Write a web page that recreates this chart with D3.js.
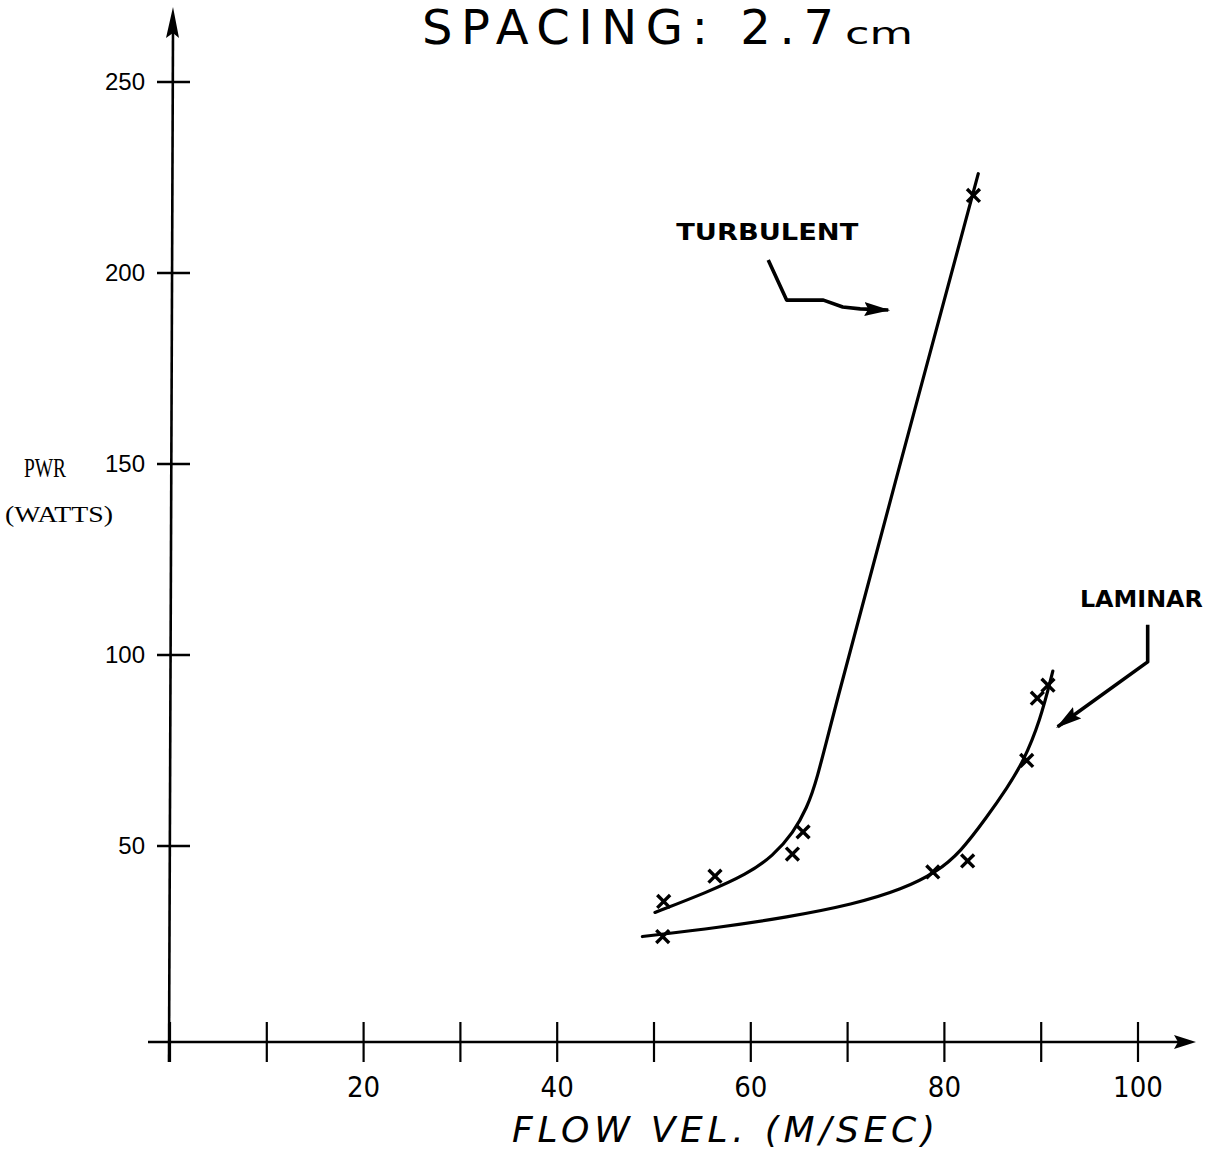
<!DOCTYPE html>
<html>
<head>
<meta charset="utf-8">
<script src="https://cdn.jsdelivr.net/npm/d3@7"></script>
<style>
  html, body { margin: 0; padding: 0; background: #fff; }
  svg { display: block; }
</style>
</head>
<body>
<svg id="chart" width="1223" height="1150"></svg>
<script>
// ---- data ----
const xTicks = [0, 10, 20, 30, 40, 50, 60, 70, 80, 90, 100];
const xTickLabels = [20, 40, 60, 80, 100];
const yTicks = [50, 100, 150, 200, 250];

// Turbulent: fitted curve and measured points
const turbulentCurve = [
  [50.1, 32.6], [55.5, 37.9], [59.6, 42.6], [62.3, 47.4], [64.4, 53.5],
  [65.8, 60.0], [66.8, 67.0], [68.4, 83.4], [74.5, 141.3], [83.5, 226]
];
const turbulentPoints = [
  [51.0, 35.5], [56.3, 42.1], [64.3, 47.9], [65.4, 53.7], [83.0, 220.3]
];

// Laminar: fitted curve and measured points
const laminarCurve = [
  [48.8, 26.3], [56.8, 28.7], [63.7, 31.3], [70.6, 34.7], [75.7, 38.7],
  [79.2, 43.2], [81.6, 48.2], [84.4, 57.6], [86.5, 65.3], [88.1, 71.8],
  [89.9, 82.8], [91.2, 95.8]
];
const laminarPoints = [
  [50.9, 26.3], [78.8, 43.2], [82.4, 46.1], [88.5, 72.4], [89.6, 88.7], [90.7, 92.1]
];

// annotation leaders (data coordinates)
const turbulentArrow = [[61.8, 203.4], [63.7, 192.9], [67.5, 192.9], [69.5, 191.1], [71.3, 190.6], [74.2, 190.3]];
const laminarArrow = [[101.0, 107.9], [101.0, 98.2], [91.7, 81.2]];

const titleText = "SPACING: 2.7";
const titleUnit = "cm";
const xTitle = "FLOW VEL. (M/SEC)";
const yTitle1 = "PWR";
const yTitle2 = "(WATTS)";

// ---- drawing ----
const svg = d3.select("#chart");
const x = d3.scaleLinear().domain([0, 100]).range([170, 1138]);
const y = d3.scaleLinear().domain([0, 250]).range([1037, 82]);
const axisY = 1042;

const defs = svg.append("defs");
defs.append("marker")
  .attr("id", "head").attr("viewBox", "0 0 26 14")
  .attr("refX", 24).attr("refY", 7)
  .attr("markerWidth", 26).attr("markerHeight", 14)
  .attr("markerUnits", "userSpaceOnUse").attr("orient", "auto")
  .append("path").attr("d", "M0,0 L26,7 L0,14 L4,7 Z").attr("fill", "#000");

// X axis
svg.append("line")
  .attr("x1", 148).attr("x2", 1180).attr("y1", axisY).attr("y2", axisY)
  .attr("stroke", "#000").attr("stroke-width", 2.6);
svg.append("path")
  .attr("d", `M1196,${axisY} L1174,${axisY - 7} L1178,${axisY} L1174,${axisY + 7} Z`)
  .attr("fill", "#000");
svg.append("g").selectAll("line").data(xTicks).join("line")
  .attr("x1", d => x(d)).attr("x2", d => x(d))
  .attr("y1", axisY - 20).attr("y2", axisY + 20)
  .attr("stroke", "#000").attr("stroke-width", 2.2);
svg.append("g").selectAll("text").data(xTickLabels).join("text")
  .attr("x", d => x(d)).attr("y", 1097)
  .attr("text-anchor", "middle")
  .attr("font-family", "'Liberation Sans Narrow', 'DejaVu Sans Condensed', sans-serif")
  .attr("font-size", 29)
  .text(d => d);

// Y axis
svg.append("line")
  .attr("x1", 169).attr("x2", 173).attr("y1", 1062).attr("y2", 30)
  .attr("stroke", "#000").attr("stroke-width", 2.6);
svg.append("path")
  .attr("d", "M173,7 L179,38 L173,33 L166,38 Z")
  .attr("fill", "#000");
svg.append("g").selectAll("line").data(yTicks).join("line")
  .attr("x1", 157).attr("x2", 190)
  .attr("y1", d => y(d)).attr("y2", d => y(d))
  .attr("stroke", "#000").attr("stroke-width", 2.4);
svg.append("g").selectAll("text").data(yTicks).join("text")
  .attr("x", 145).attr("y", d => y(d) + 8)
  .attr("text-anchor", "end")
  .attr("font-family", "'Liberation Sans', Arial, sans-serif")
  .attr("font-size", 24)
  .text(d => d);

// Axis titles
svg.append("text").attr("x", 24).attr("y", 477)
  .attr("font-family", "'Liberation Serif', serif").attr("font-size", 27)
  .attr("textLength", 42).attr("lengthAdjust", "spacingAndGlyphs")
  .text(yTitle1);
svg.append("text").attr("x", 5).attr("y", 522)
  .attr("font-family", "'Liberation Serif', serif").attr("font-size", 23)
  .attr("textLength", 108).attr("lengthAdjust", "spacingAndGlyphs")
  .text(yTitle2);
svg.append("text").attr("x", 512).attr("y", 1142)
  .attr("font-family", "'DejaVu Sans', sans-serif").attr("font-size", 36)
  .attr("font-style", "italic")
  .attr("textLength", 423).attr("lengthAdjust", "spacing")
  .text(xTitle);

// Title
svg.append("text").attr("x", 422).attr("y", 44)
  .attr("font-family", "'DejaVu Sans', sans-serif").attr("font-size", 48)
  .attr("textLength", 412).attr("lengthAdjust", "spacing")
  .text(titleText);
svg.append("text").attr("x", 845).attr("y", 44)
  .attr("font-family", "'DejaVu Sans', sans-serif").attr("font-size", 30)
  .attr("textLength", 68).attr("lengthAdjust", "spacingAndGlyphs")
  .text(titleUnit);

// Curves
const line = d3.line().x(d => x(d[0])).y(d => y(d[1])).curve(d3.curveBasis);
[turbulentCurve, laminarCurve].forEach(c => {
  svg.append("path").datum(c).attr("d", line)
    .attr("fill", "none").attr("stroke", "#000").attr("stroke-width", 3.2)
    .attr("stroke-linecap", "round");
});

// Measured points as crosses
svg.append("g").selectAll("path").data(turbulentPoints.concat(laminarPoints)).join("path")
  .attr("transform", d => `translate(${x(d[0])},${y(d[1])})`)
  .attr("d", d3.symbol().type(d3.symbolX).size(110))
  .attr("fill", "none").attr("stroke", "#000").attr("stroke-width", 3.4);

// Annotations
const straight = d3.line().x(d => x(d[0])).y(d => y(d[1]));
svg.append("path").datum(turbulentArrow).attr("d", straight)
  .attr("fill", "none").attr("stroke", "#000").attr("stroke-width", 3.6)
  .attr("stroke-linejoin", "round").attr("marker-end", "url(#head)");
svg.append("path").datum(laminarArrow).attr("d", straight)
  .attr("fill", "none").attr("stroke", "#000").attr("stroke-width", 3.6)
  .attr("stroke-linejoin", "round").attr("marker-end", "url(#head)");

svg.append("text").attr("x", x(52.3)).attr("y", y(211.3) + 10)
  .attr("font-family", "'DejaVu Sans', sans-serif").attr("font-size", 23)
  .attr("font-weight", "bold")
  .attr("textLength", 182).attr("lengthAdjust", "spacingAndGlyphs")
  .text("TURBULENT");
svg.append("text").attr("x", x(94.0)).attr("y", y(115.2) + 10)
  .attr("font-family", "'DejaVu Sans', sans-serif").attr("font-size", 23)
  .attr("font-weight", "bold")
  .attr("textLength", 123).attr("lengthAdjust", "spacingAndGlyphs")
  .text("LAMINAR");
</script>
</body>
</html>
